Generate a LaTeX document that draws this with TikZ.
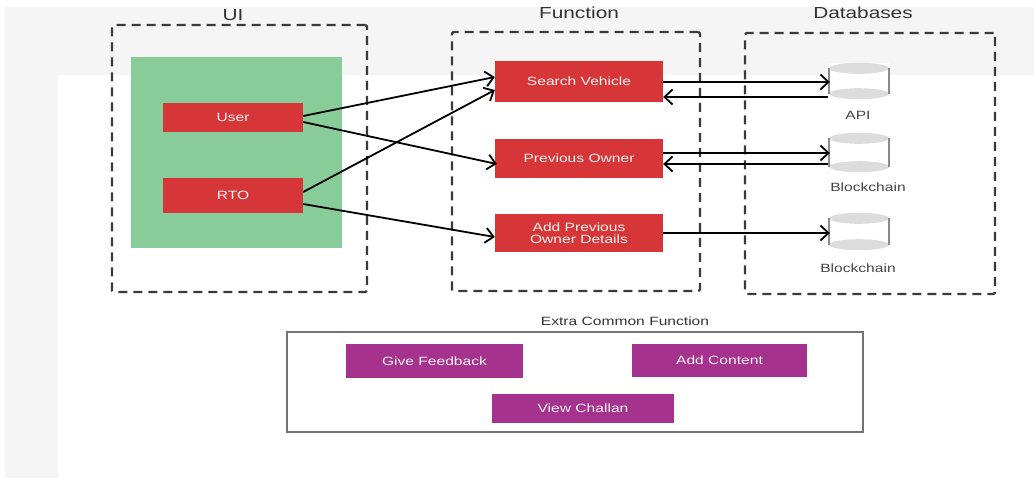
\documentclass[tikz,border=0pt]{standalone}
\usepackage{fontspec}
\setmainfont{Liberation Sans}[FakeStretch=1.3]
\usetikzlibrary{arrows.meta,calc}
\definecolor{bggray}{HTML}{F5F5F5}
\definecolor{boxred}{HTML}{D63638}
\definecolor{boxpurple}{HTML}{A5328D}
\definecolor{uigreen}{HTML}{88CC9A}
\definecolor{dashgray}{HTML}{3A3A3A}
\definecolor{headtext}{HTML}{333333}
\definecolor{labtext}{HTML}{444444}
\definecolor{cylgray}{HTML}{DCDCDC}
\definecolor{cylside}{HTML}{8A8A8A}
\begin{document}
\begin{tikzpicture}[x=1pt,y=-1pt,
  dbox/.style={draw=dashgray, line width=2.2pt, dash pattern=on 9pt off 6pt, rounded corners=1.5pt, inner sep=0pt},
  redbox/.style={fill=boxred, inner sep=0pt, text=white!94!boxred, align=center, font=\fontsize{12}{12}\selectfont},
  purplebox/.style={fill=boxpurple, inner sep=0pt, text=white!94!boxpurple, font=\fontsize{12}{12}\selectfont},
  head/.style={text=headtext, inner sep=0pt, anchor=base, font=\fontsize{16}{19}\selectfont},
  lab/.style={text=labtext, inner sep=0pt, anchor=base, font=\fontsize{12}{14}\selectfont},
  cyl/.style={inner sep=0pt, minimum width=60pt},
  arr/.style={draw=black, line width=1.8pt, -{Straight Barb[length=8pt,width=15pt]}}
]
\useasboundingbox (0,0) rectangle (1034,480);
% background bands
\fill[bggray] (5,7) rectangle (1034,75);
\fill[bggray] (5,75) rectangle (58,478);

% containers
\node[fill=uigreen, inner sep=0pt, minimum width=211pt, minimum height=191pt] (green) at (236.5,152.5) {};
\node[dbox, minimum width=255pt, minimum height=267pt] (ui) at (239.5,158.5) {};
\node[dbox, minimum width=248pt, minimum height=259pt] (fn) at (576,161.5) {};
\node[dbox, minimum width=250pt, minimum height=261pt] (db) at (870,163.5) {};

\node[head] (uil) at (233,20) {UI};
\node[head] (fnl) at (579,18) {Function};
\node[head] (dbl) at (863,18) {Databases};

\node[redbox, minimum width=140pt, minimum height=29pt] (user) at (233,117.5) {User};
\node[redbox, minimum width=140pt, minimum height=35pt] (rto) at (233,195.5) {RTO};

\node[redbox, minimum width=168pt, minimum height=41pt] (sv) at (579,81.5) {Search Vehicle};
\node[redbox, minimum width=168pt, minimum height=39pt] (po) at (579,158.5) {Previous Owner};
\node[redbox, minimum width=168pt, minimum height=38pt] (apod) at (579,233) {Add Previous\\[-0.5pt]Owner Details};

% cylinders
\node[cyl, minimum height=36pt] (api) at (859,81) {};
\node[cyl, minimum height=39pt] (bc1) at (859,152.5) {};
\node[cyl, minimum height=37pt] (bc2) at (859,231.5) {};
\foreach \c in {api,bc1,bc2}{
  \fill[white] (\c.north west) rectangle (\c.south east);
  \fill[cylgray] ($(\c.south)+(0,-5.5)$) ellipse [x radius=30, y radius=5.5];
  \fill[cylgray] ($(\c.north)+(0,5.5)$) ellipse [x radius=30, y radius=5.5];
  \draw[cylside, line width=1.5pt] ($(\c.north west)+(0,5.5)$) -- ($(\c.south west)+(0,-5.5)$);
  \draw[cylside, line width=1.5pt] ($(\c.north east)+(0,5.5)$) -- ($(\c.south east)+(0,-5.5)$);
}
\node[lab] (apil) at (858,119.5) {API};
\node[lab] (bc1l) at (868,191) {Blockchain};
\node[lab] (bc2l) at (858,272) {Blockchain};

% connectors UI -> functions
\draw[arr] ($(user.east)+(0,-1.5)$) -- ($(sv.west)+(0,-4.5)$);
\draw[arr] ($(user.east)+(0,4.5)$) -- ($(po.west)+(2,5.5)$);
\draw[arr] ($(rto.east)+(0,-3.5)$) -- ($(sv.west)+(0,8.5)$);
\draw[arr] ($(rto.east)+(0,8.5)$) -- ($(apod.west)+(0,4)$);

% connectors functions <-> databases
\draw[arr] ($(sv.east)+(0,0.5)$) -- ($(api.west)+(1,1)$);
\draw[arr] ($(api.west)+(-1,16)$) -- ($(sv.east)+(0,15.5)$);
\draw[arr] ($(po.east)+(0,-5.5)$) -- ($(bc1.west)+(1,0.5)$);
\draw[arr] ($(bc1.west)+(-1,11.5)$) -- ($(po.east)+(0,5.5)$);
\draw[arr] (apod.east) -- ($(bc2.west)+(1,1.5)$);

% extra common functions
\node[draw=black!55, line width=1.2pt, fill=white, inner sep=0pt, minimum width=576pt, minimum height=100pt] (extra) at (575,382) {};
\node[lab, text=headtext] (extral) at (625,325) {Extra Common Function};
\node[purplebox, minimum width=177pt, minimum height=34pt] (gf) at (434.5,361) {Give Feedback};
\node[purplebox, minimum width=175pt, minimum height=33pt] (ac) at (719.5,360.5) {Add Content};
\node[purplebox, minimum width=182pt, minimum height=29pt] (vc) at (583,408.5) {View Challan};
\end{tikzpicture}
\end{document}
